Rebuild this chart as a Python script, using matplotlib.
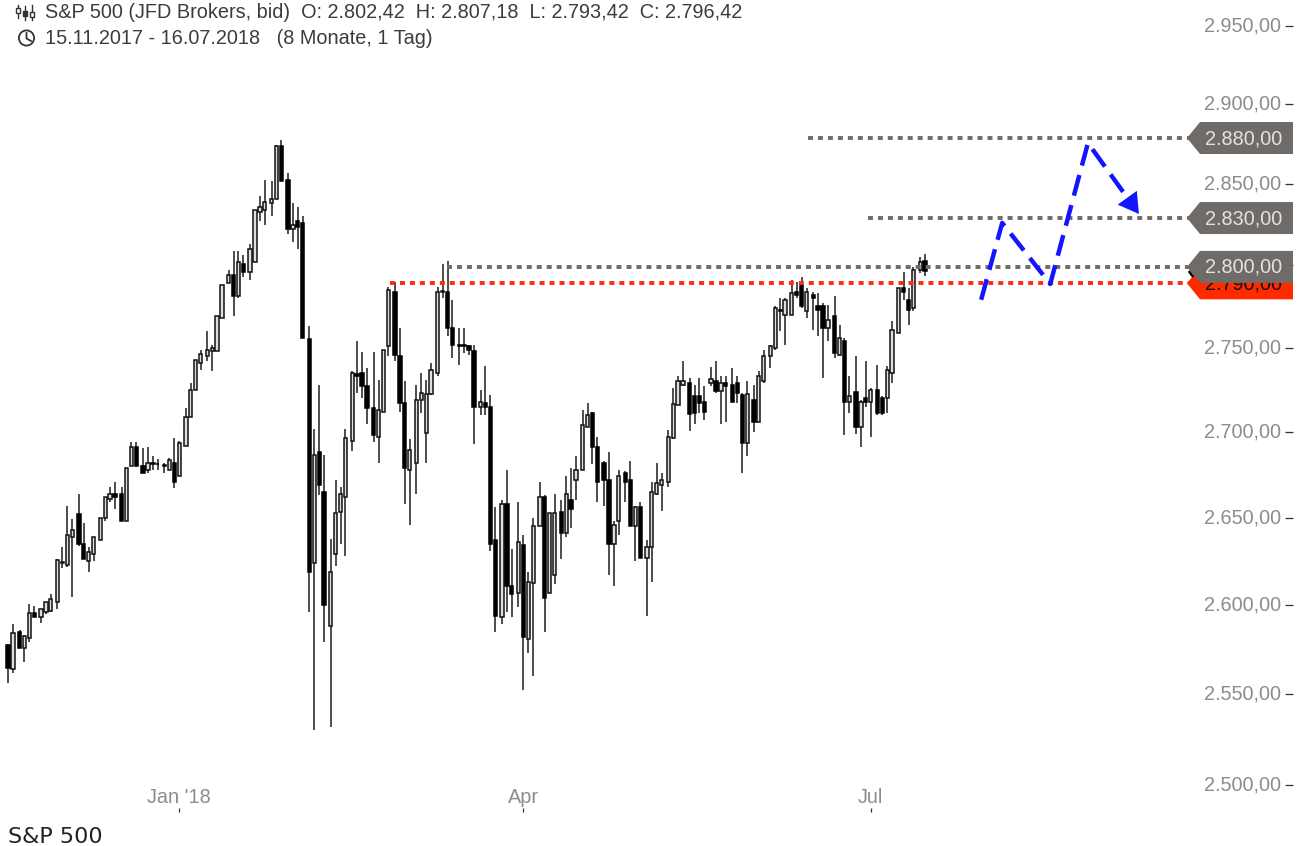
import numpy as np
import matplotlib
matplotlib.use('Agg')
import matplotlib.pyplot as plt
from matplotlib.lines import Line2D
from matplotlib.patches import Polygon, Circle
from matplotlib.transforms import IdentityTransform

plt.rcParams['font.family'] = ['Liberation Sans', 'DejaVu Sans']

# --- data, one row per trading week ---
week_sizes = [2, 4, 3] + [4] * 10 + [3] + [4] * 10 + [3] + [4] * 11 + [3] + [4] * 7 + [2]

opens = [
    2577.5, 2564,
    2585, 2576, 2581.5, 2595.5,
    2593, 2596, 2596.6,
    2601.7, 2624, 2623, 2639,
    2652.4, 2635, 2625, 2629,
    2637, 2650, 2661, 2663.5,
    2663.5, 2648, 2680, 2691,
    2680, 2678, 2682, 2681.5,
    2680.5, 2678, 2682, 2674,
    2692, 2709, 2725, 2741,
    2745, 2748, 2748, 2768,
    2789, 2794, 2781.5, 2801,
    2796, 2802, 2832.5, 2834,
    2838, 2841, 2874,
    2852.5, 2822, 2827, 2826,
    2755.5, 2624, 2688, 2665,
    2588, 2629, 2653.5, 2662,
    2695, 2734.5, 2735, 2727,
    2714, 2697, 2712, 2751,
    2784, 2745, 2717, 2678,
    2682, 2719, 2699.5, 2722.5,
    2735, 2784, 2784, 2762,
    2752, 2752, 2751, 2748,
    2715, 2717, 2715, 2637,
    2593, 2658, 2611,
    2607, 2634, 2581, 2612.5,
    2645, 2662, 2607, 2617,
    2653.5, 2641, 2660.5, 2672,
    2678, 2703, 2711, 2691,
    2682, 2672, 2635, 2648,
    2676, 2672, 2645, 2656,
    2627, 2633, 2664, 2669,
    2671, 2696.5, 2716, 2728,
    2729, 2721, 2721, 2718,
    2729, 2730, 2724, 2729,
    2728, 2729, 2722, 2693.5,
    2719, 2706, 2730,
    2745, 2750, 2773, 2770,
    2770, 2784, 2788, 2772,
    2782, 2775, 2775, 2762,
    2769, 2746, 2754, 2718,
    2723.5, 2703, 2720, 2718,
    2725, 2720, 2720, 2735,
    2759, 2786, 2779, 2774,
    2797, 2802.42,
]
highs = [
    2578, 2589,
    2586, 2583, 2600.5, 2599.5,
    2598, 2602, 2606,
    2626, 2633, 2656.5, 2649,
    2663.5, 2647, 2633, 2639,
    2650, 2662, 2668, 2671,
    2668, 2679, 2694, 2694,
    2690.5, 2691, 2686, 2684,
    2682, 2685, 2696.5, 2695,
    2714, 2729, 2743, 2749,
    2760, 2752, 2769, 2788,
    2797, 2808.5, 2808.5, 2806,
    2813, 2834, 2842.5, 2852.5,
    2852, 2874.5, 2877.5,
    2857, 2838, 2836, 2830,
    2763, 2702, 2728, 2686.5,
    2638, 2672, 2668, 2702,
    2736, 2754, 2747.5, 2738,
    2747.5, 2731, 2749, 2787,
    2790, 2762, 2730, 2696,
    2728, 2735, 2731, 2741,
    2787, 2801, 2802.5, 2779,
    2762, 2762, 2751.5, 2752,
    2725, 2739, 2722, 2656,
    2660, 2678, 2632,
    2659, 2640, 2619, 2650,
    2671, 2663, 2653, 2664,
    2660, 2674, 2679, 2686,
    2713, 2717, 2712, 2697,
    2683, 2688, 2648, 2678,
    2677, 2683, 2657, 2659,
    2637, 2671, 2682, 2676,
    2701, 2726, 2733, 2742,
    2732, 2728, 2732, 2727,
    2738.5, 2742, 2733, 2733,
    2738, 2733, 2723, 2730,
    2728, 2736, 2749,
    2752, 2775, 2780, 2780,
    2791, 2790, 2793, 2786,
    2784, 2783, 2777, 2776,
    2781, 2764, 2756, 2733,
    2745, 2719, 2742, 2726,
    2740, 2721, 2739, 2766,
    2786, 2796, 2786, 2799,
    2805, 2807.18,
]
lows = [
    2556, 2562,
    2576, 2568, 2579, 2593,
    2590, 2595, 2596,
    2597.8, 2621, 2621.5, 2604.5,
    2633.5, 2626, 2619, 2625,
    2637, 2648, 2659, 2655,
    2648, 2648, 2680, 2680,
    2676, 2676, 2678, 2677.5,
    2676, 2678, 2667.5, 2674,
    2692, 2709, 2725, 2737,
    2742, 2736, 2748, 2768,
    2789, 2769, 2780, 2793,
    2791, 2802, 2827, 2825,
    2830, 2841, 2852,
    2819, 2814, 2810, 2756,
    2596, 2530, 2663, 2579,
    2532, 2622, 2635, 2628,
    2689, 2723, 2720, 2705,
    2694, 2682, 2712, 2745,
    2742, 2712, 2658, 2646,
    2664, 2711, 2682, 2722,
    2733, 2780, 2757, 2744,
    2740, 2747, 2746, 2693,
    2710, 2710, 2631, 2585,
    2589, 2596, 2593,
    2599, 2552, 2573, 2560,
    2645, 2585, 2607, 2612,
    2626, 2639, 2644, 2660,
    2678, 2703, 2681, 2659,
    2657, 2617, 2611, 2640,
    2659, 2645, 2625, 2627,
    2594, 2613, 2663, 2654,
    2668, 2696, 2716, 2727,
    2700.5, 2705, 2711, 2707,
    2727.5, 2723, 2705, 2706,
    2718, 2717, 2676, 2686,
    2700, 2706, 2729,
    2738, 2749, 2760, 2752,
    2770, 2780, 2774, 2768,
    2761, 2757, 2732, 2754,
    2744, 2745, 2698, 2711,
    2699, 2691, 2715, 2697,
    2710, 2710, 2711, 2729,
    2759, 2779, 2764, 2772,
    2795, 2793.42,
]
closes = [
    2564.6, 2584,
    2576, 2582.5, 2595.5, 2593,
    2598, 2602, 2603.5,
    2625.6, 2624.5, 2640, 2643,
    2635, 2626, 2630, 2639,
    2650, 2662, 2664, 2662,
    2648, 2679, 2691, 2680,
    2676, 2682, 2681.5, 2681,
    2680, 2683.5, 2670.5, 2693.5,
    2709, 2725, 2743, 2746.5,
    2749, 2750, 2769, 2788,
    2794, 2781.5, 2802, 2796,
    2810, 2834, 2836, 2839,
    2841, 2874, 2852,
    2822, 2825, 2823.5, 2756,
    2619, 2686.5, 2669, 2600,
    2619, 2653, 2664, 2696.5,
    2735, 2733, 2727, 2714,
    2698, 2713, 2749, 2785,
    2746, 2717, 2679, 2689.5,
    2719, 2723, 2722.5, 2737,
    2784, 2784.5, 2762, 2752,
    2751, 2751, 2749, 2715,
    2718, 2715, 2635, 2594,
    2658, 2611, 2606,
    2636, 2582, 2613, 2645,
    2662, 2604, 2653, 2653,
    2641, 2664, 2655, 2678,
    2704, 2710, 2691, 2671,
    2672, 2635, 2646, 2674,
    2671, 2645, 2656, 2627,
    2633, 2665, 2670, 2672,
    2697, 2716.5, 2730, 2730,
    2710.5, 2711, 2717, 2712,
    2731.5, 2724, 2729, 2727,
    2718, 2723, 2693.5, 2722.5,
    2706, 2733, 2745,
    2751, 2774, 2772, 2779,
    2783, 2782, 2775, 2784,
    2780, 2773, 2762, 2767,
    2747, 2756, 2718, 2721,
    2703, 2718, 2718, 2725,
    2711, 2711, 2737, 2761,
    2786, 2784, 2773, 2797,
    2802, 2796.42,
]

y_ticks = [2950, 2900, 2850, 2800, 2750, 2700, 2650, 2600, 2550, 2500]
y_tick_labels = ['2.950,00', '2.900,00', '2.850,00', '2.800,00', '2.750,00',
                 '2.700,00', '2.650,00', '2.600,00', '2.550,00', '2.500,00']
x_tick_sessions = [32, 96, 161]
x_tick_labels = ["Jan '18", 'Apr', 'Jul']

# drawn levels as they sit on the picture: price, first session of the line
level_prices = [2878.8, 2829, 2799]
level_labels = ['2.880,00', '2.830,00', '2.800,00']
level_starts = [163.3, 175.5, 89.6]
support_price = 2789
support_label = '2.790,00'
support_start = 78.0

# blue forecast path
path_sessions = [198.6, 202.9, 212.7, 220.4, 230.8]
path_prices = [2779, 2826, 2788.6, 2875.7, 2831.5]

header_1 = 'S&P 500 (JFD Brokers, bid)  O: 2.802,42  H: 2.807,18  L: 2.793,42  C: 2.796,42'
header_2 = '15.11.2017 - 16.07.2018   (8 Monate, 1 Tag)'

W, H = 1306, 846
PX = 4.9        # pixels per session
GAP = 1.8 / PX  # extra space between weeks
SCALE = 4585.0  # pixels per unit of ln(price)
Y0 = 26.0       # pixel row of 2950
AX_R, AX_B = 1293, 812
TXT = 14.3
BLUE = '#1414ff'

opens, highs, lows, closes = map(np.array, (opens, highs, lows, closes))
week_no = np.repeat(np.arange(len(week_sizes)), week_sizes)
x = np.arange(len(opens)) + week_no * GAP
up = closes >= opens

fig = plt.figure(figsize=(W / 100, H / 100), dpi=100, facecolor='white')
ax = fig.add_axes([0, 1 - AX_B / H, AX_R / W, AX_B / H])
for s in ax.spines.values():
    s.set_visible(False)

# wicks and bodies
ax.vlines(x, lows, highs, color='#262626', lw=1.15, zorder=2)
bottoms = np.minimum(opens, closes)
heights = np.maximum(np.abs(closes - opens), 0.4)
ax.bar(x[up], heights[up], bottom=bottoms[up], width=0.68, facecolor='#dedede',
       edgecolor='#111111', linewidth=1.1, zorder=3)
ax.bar(x[~up], heights[~up], bottom=bottoms[~up], width=0.68, facecolor='black',
       edgecolor='black', linewidth=1.1, zorder=3)

ax.set_yscale('log')
ax.set_xlim(-8 / PX, (AX_R - 8) / PX)
ax.set_ylim(2950 * np.exp(-(AX_B - Y0) / SCALE), 2950 * np.exp(Y0 / SCALE))
ax.minorticks_off()

# dotted levels
x_end = (1190 - 8) / PX
dots = (0, (5.0 / 3.9, 5.0 / 3.9))
ax.hlines(support_price, support_start, x_end, color='#ff2a10', lw=2.8, linestyles=dots, zorder=4)
for price, start in zip(level_prices, level_starts):
    ax.hlines(price, start, x_end, color='#6f6b68', lw=2.8, linestyles=dots, zorder=4)

# blue dashed path, stopped short of the arrow head
stop = 0.80
last_x = path_sessions[-2] + stop * (path_sessions[-1] - path_sessions[-2])
last_y = path_prices[-2] + stop * (path_prices[-1] - path_prices[-2])
ax.plot(path_sessions[:-1] + [last_x], path_prices[:-1] + [last_y], color=BLUE, lw=3.2,
        linestyle=(0, (4.8, 2.2)), dash_capstyle='butt', zorder=6)
ax.annotate('', xy=(path_sessions[-1], path_prices[-1]),
            xytext=(path_sessions[-2], path_prices[-2]),
            arrowprops=dict(arrowstyle='-|>,head_length=1.0,head_width=0.59', color=BLUE,
                            lw=0, shrinkA=0, shrinkB=0, mutation_scale=14.4), zorder=6)

# axes ticks
ax.yaxis.tick_right()
ax.set_yticks(y_ticks)
ax.set_yticklabels(y_tick_labels)
ax.tick_params(axis='y', which='major', direction='in', length=6, width=0.9, color='#333333',
               pad=-8.5, labelsize=TXT, labelcolor='#8c8c8c')
for lab in ax.get_yticklabels():
    lab.set_ha('right')
    lab.set_va('center')
ax.set_xticks([x[i] for i in x_tick_sessions])
ax.set_xticklabels(x_tick_labels)
ax.tick_params(axis='x', direction='in', length=3, width=0.9, color='#333333',
               pad=-17.5, labelsize=TXT, labelcolor='#8c8c8c')


def row(price):
    return Y0 + SCALE * np.log(2950 / price)


def price_tag(price, label, face, text_color, z):
    yc = row(price)
    pts = [(1187, yc), (1200, yc - 16), (1293, yc - 16), (1293, yc + 16), (1200, yc + 16)]
    pts = [(a, H - b) for a, b in pts]
    fig.add_artist(Polygon(pts, closed=True, facecolor=face, edgecolor='none',
                           transform=IdentityTransform(), zorder=z))
    fig.text(1282 / W, 1 - (yc + 0.5) / H, label, color=text_color, fontsize=TXT, ha='right',
             va='center', zorder=z + 0.1)


price_tag(support_price, support_label, '#ff2a00', '#111111', 10)
price_tag(level_prices[2], level_labels[2], '#6f6b68', '#e6e2de', 11)
price_tag(level_prices[1], level_labels[1], '#6f6b68', '#e6e2de', 11)
price_tag(level_prices[0], level_labels[0], '#6f6b68', '#e6e2de', 11)
fig.add_artist(Line2D([1189.5 / W, 1192.5 / W], [1 - 272 / H, 1 - 276 / H], color='black',
                      lw=1.8, zorder=12))

# header
fig.text(45 / W, 1 - 12 / H, header_1, color='#3c3c3c', fontsize=TXT, va='center')
fig.text(45 / W, 1 - 38.5 / H, header_2, color='#3c3c3c', fontsize=TXT, va='center')
fig.text(8 / W, 1 - 837 / H, 'S&P 500', color='#222222', fontsize=16, va='center',
         family=['DejaVu Sans'])

# header icons, in pixels
overlay = fig.add_axes([0, 0, 1, 1], facecolor='none')
overlay.set_xlim(0, W)
overlay.set_ylim(H, 0)
overlay.axis('off')
for cx, top, bot, b0, b1, filled in [(18, 5, 18, 8, 13, False), (25, 6, 20, 11, 16, True), (32, 5, 20, 12, 17, False)]:
    overlay.plot([cx, cx], [top, bot], color='#333333', lw=1)
    overlay.add_patch(plt.Rectangle((cx - 1.8, b0), 3.6, b1 - b0, facecolor='#333333' if filled else 'white',
                                    edgecolor='#333333', lw=1, zorder=3))
overlay.add_patch(Circle((26.5, 38), 7.6, facecolor='none', edgecolor='#333333', lw=1.3))
overlay.plot([26.5, 26.5, 31], [33, 38.5, 41], color='#333333', lw=1.3)

fig.savefig('out.png', dpi=100)
